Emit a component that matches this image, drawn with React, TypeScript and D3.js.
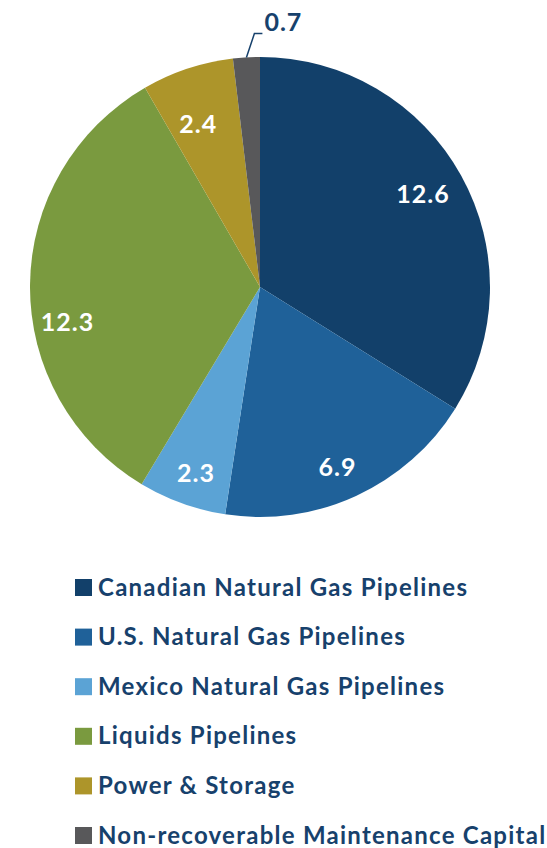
import React from "react";
import * as d3 from "d3";

const categories = [
  "Canadian Natural Gas Pipelines",
  "U.S. Natural Gas Pipelines",
  "Mexico Natural Gas Pipelines",
  "Liquids Pipelines",
  "Power & Storage",
  "Non-recoverable Maintenance Capital",
];
const values = [12.6, 6.9, 2.3, 12.3, 2.4, 0.7];
const colors = ["#12406A", "#1F6199", "#5BA3D5", "#7A9A3F", "#AD952A", "#58585A"];

const W = 547;
const H = 848;
const cx = 260;
const cy = 287;
const R = 230;
const textColor = "#17416C";
const font = "Lato, 'Open Sans', sans-serif";
// label placement (fraction of radius, angle shift in degrees) per slice
const labelRadius = [0.816, 0.852, 0.857, 0.851, 0.757, 1];
const labelShift = [-0.7, 1.4, -0.9, -10.9, -2.4, 0];

export default function App() {
  const pie = d3.pie<number>().sort(null).value((d) => d)(values);
  const arc = d3.arc<d3.PieArcDatum<number>>().innerRadius(0).outerRadius(R);

  const legendY = d3.scaleLinear().domain([0, categories.length - 1]).range([587, 835]);

  return (
    <svg width={W} height={H} style={{ position: "absolute", left: 0, top: 0 }}>
      <rect width={W} height={H} fill="#fff" />
      <g transform={`translate(${cx},${cy})`}>
        {pie.map((p, i) => (
          <path key={i} d={arc(p) || ""} fill={colors[i]} />
        ))}
        {pie.map((p, i) => {
          const mid = (p.startAngle + p.endAngle) / 2;
          if (i === pie.length - 1) {
            const x0 = Math.sin(mid) * R;
            const y0 = -Math.cos(mid) * R;
            const x1 = x0 + 8;
            const y1 = y0 - 24;
            const x2 = x1 + 8;
            return (
              <g key={i}>
                <polyline
                  points={`${x0},${y0} ${x1},${y1} ${x2},${y1}`}
                  fill="none"
                  stroke={textColor}
                  strokeWidth={1.5}
                />
                <text
                  x={x2 + 2}
                  y={y1 - 11}
                  dy="0.35em"
                  fill={textColor}
                  fontFamily={font}
                  fontWeight={700}
                  fontSize={25}
                  letterSpacing={1}
                >
                  {values[i].toFixed(1)}
                </text>
              </g>
            );
          }
          const a = mid + (labelShift[i] * Math.PI) / 180;
          const r = R * labelRadius[i];
          const lx = Math.sin(a) * r;
          const ly = -Math.cos(a) * r;
          return (
            <text
              key={i}
              x={lx}
              y={ly}
              dy="0.36em"
              textAnchor="middle"
              fill="#fff"
              fontFamily={font}
              fontWeight={700}
              fontSize={25}
              letterSpacing={1}
            >
              {values[i].toFixed(1)}
            </text>
          );
        })}
      </g>
      {categories.map((c, i) => (
        <g key={c} transform={`translate(75,${legendY(i)})`}>
          <rect x={0} y={-8} width={17} height={17} fill={colors[i]} />
          <text
            x={23}
            y={0}
            dy="0.36em"
            fill={textColor}
            fontFamily={font}
            fontWeight={700}
            fontSize={24}
            letterSpacing={1.25}
          >
            {c}
          </text>
        </g>
      ))}
    </svg>
  );
}
